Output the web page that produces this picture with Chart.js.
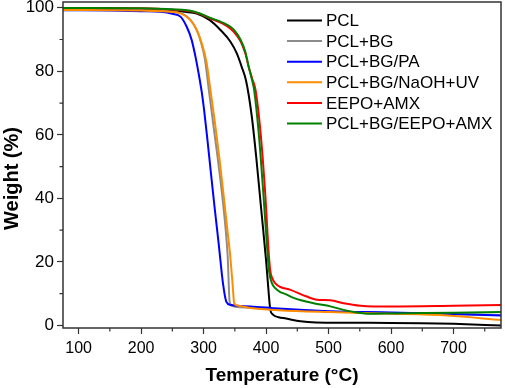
<!DOCTYPE html>
<html>
<head>
<meta charset="utf-8">
<script src="https://cdn.jsdelivr.net/npm/chart.js@4.4.1/dist/chart.umd.min.js"></script>
<style>
  html, body { margin: 0; padding: 0; background: #fff; }
  #wrap { width: 505px; height: 388px; }
</style>
</head>
<body>
<div id="wrap"><canvas id="tgaChart"></canvas></div>
<script>
const seriesLabels = ['PCL', 'PCL+BG', 'PCL+BG/PA', 'PCL+BG/NaOH+UV', 'EEPO+AMX', 'PCL+BG/EEPO+AMX'];
const seriesColors = ['#000000', '#8c8c8c', '#0000ff', '#ff8c00', '#ff0000', '#008000'];

const xTicks = [100, 200, 300, 400, 500, 600, 700];
const yTicks = [0, 20, 40, 60, 80, 100];

// temperature (°C) / weight (%)
const pclT = [75, 150, 200, 250, 270, 289, 310, 327, 343, 353, 361, 368, 377, 384.5, 392, 400, 404.5, 406.7, 411, 420, 432, 455, 480, 600, 700, 776];
const pclW = [99.9, 99.8, 99.6, 99.1, 98.7, 98.2, 96.1, 93.0, 89.3, 85.7, 81.4, 77.0, 66.0, 52.5, 37.0, 20.5, 9.5, 5.0, 3.4, 2.6, 2.2, 1.3, 0.95, 0.8, 0.5, 0.0];

const bgT = [75, 200, 263, 279, 289, 296, 302, 308.5, 316, 323, 329.5, 334.5, 338.5, 341.8, 346, 351, 375, 420, 500, 600, 700, 776];
const bgW = [99.6, 99.4, 98.3, 96.2, 93.0, 89.0, 84.0, 74.0, 62.6, 52.1, 41.5, 32.0, 22.0, 7.2, 6.1, 5.9, 5.6, 5.0, 4.4, 3.9, 3.5, 3.3];

const paT = [75, 150, 200, 231, 250, 263, 273, 281, 287, 292, 297, 301, 305.4, 312, 318, 324, 331, 336.3, 342.7, 375, 420, 500, 600, 700, 776];
const paW = [99.2, 99.1, 98.9, 98.7, 98.1, 97.2, 94.0, 89.8, 84.6, 79.4, 73.5, 67.5, 59.8, 47.5, 36.5, 26.0, 13.3, 7.5, 6.5, 6.0, 5.3, 4.5, 4.1, 3.6, 3.1];

const naT = [75, 200, 240, 263, 279, 289, 297, 305, 311, 318.7, 325.6, 332, 337, 342.7, 346.5, 349, 353.4, 375, 420, 500, 600, 690, 776];
const naW = [99.3, 99.1, 98.8, 98.2, 96.1, 93.0, 88.8, 82.5, 74.0, 63.0, 52.1, 41.0, 32.0, 21.7, 12.8, 7.0, 6.3, 5.5, 4.8, 4.2, 3.7, 3.1, 1.7];

const eeT = [75, 200, 250, 284, 311, 337, 348, 359, 367, 372, 378, 383, 391.5, 399, 403.5, 406.5, 410, 414, 423, 439, 465, 481, 503, 524, 551, 572, 600, 700, 776];
const eeW = [99.9, 99.8, 99.4, 98.7, 96.6, 94.3, 92.5, 89.5, 85.5, 81.5, 77.5, 74.3, 60.0, 40.5, 25.0, 17.5, 14.8, 13.4, 12.1, 11.2, 9.1, 8.1, 7.9, 7.0, 6.2, 6.0, 6.0, 6.2, 6.4];

const gT = [75, 200, 250, 284, 311, 337, 348, 359, 367, 372, 377.5, 381, 388.5, 396, 401.5, 404.5, 409, 416, 422, 432, 444, 476, 503, 524, 545, 567, 600, 700, 776];
const gW = [99.9, 99.8, 99.5, 98.8, 96.8, 94.7, 93.2, 90.0, 86.0, 81.6, 77.3, 74.0, 60.0, 40.5, 25.0, 17.5, 13.5, 11.5, 10.6, 9.8, 8.7, 7.0, 6.0, 4.9, 4.1, 3.7, 3.8, 4.0, 4.2];

const seriesT = [pclT, bgT, paT, naT, eeT, gT];
const seriesW = [pclW, bgW, paW, naW, eeW, gW];

const FONT = '"Liberation Sans", Arial, sans-serif';
const AXIS = '#333333';

Chart.defaults.font.family = FONT;
Chart.defaults.color = '#000';

const datasets = seriesLabels.map((label, i) => ({
    label: label,
    data: seriesT[i].map((t, k) => ({ x: t, y: seriesW[i][k] })),
    borderColor: seriesColors[i],
    backgroundColor: seriesColors[i],
    borderWidth: 2,
    pointRadius: 0,
    cubicInterpolationMode: 'monotone',
    fill: false,
    order: seriesLabels.length - i
}));

// box, minor ticks, legend, y title
const extras = {
    id: 'extras',
    afterDatasetsDraw(chart) {
        const { ctx, chartArea: a, scales } = chart;
        ctx.save();
        ctx.strokeStyle = AXIS;
        ctx.lineWidth = 1.5;
        ctx.strokeRect(a.left, a.top, a.right - a.left, a.bottom - a.top);

        ctx.lineWidth = 1.2;
        ctx.beginPath();
        for (let i = 0; i < xTicks.length; i++) {
            const px = scales.x.getPixelForValue(xTicks[i] + 50);
            if (px < a.right) { ctx.moveTo(px, a.bottom); ctx.lineTo(px, a.bottom + 3.5); }
        }
        for (let i = 0; i < yTicks.length - 1; i++) {
            const py = scales.y.getPixelForValue(yTicks[i] + 10);
            ctx.moveTo(a.left, py); ctx.lineTo(a.left - 3.5, py);
        }
        ctx.stroke();

        ctx.font = '17px ' + FONT;
        ctx.textBaseline = 'middle';
        ctx.textAlign = 'left';
        chart.data.datasets.forEach((ds, i) => {
            const y = 20.5 + i * 20.6;
            ctx.strokeStyle = ds.borderColor;
            ctx.lineWidth = 2;
            ctx.beginPath();
            ctx.moveTo(287, y); ctx.lineTo(322, y);
            ctx.stroke();
            ctx.fillStyle = '#000';
            ctx.fillText(ds.label, 326, y + 1);
        });

        ctx.translate(12, 178.5);
        ctx.rotate(-Math.PI / 2);
        ctx.font = 'bold 20px ' + FONT;
        ctx.textAlign = 'center';
        ctx.fillText('Weight (%)', 0, 0);
        ctx.restore();
    }
};

const ctx = document.getElementById('tgaChart').getContext('2d');
new Chart(ctx, {
    type: 'line',
    data: { datasets: datasets },
    plugins: [extras],
    options: {
        responsive: true,
        maintainAspectRatio: false,
        animation: false,
        layout: { padding: { top: 2, right: 4, left: 0, bottom: 0 } },
        plugins: { legend: { display: false }, tooltip: { enabled: false } },
        scales: {
            x: {
                type: 'linear',
                min: 75,
                max: 776,
                afterFit: (s) => { s.height = 60; s.paddingLeft = 0; s.paddingRight = 0; },
                afterBuildTicks: (s) => { s.ticks = xTicks.map(v => ({ value: v })); },
                ticks: { font: { size: 16 }, color: '#000', padding: 5, maxRotation: 0 },
                grid: { drawOnChartArea: false, tickLength: 6, tickColor: AXIS, tickWidth: 1.2 },
                border: { display: false },
                title: { display: true, text: 'Temperature (°C)', font: { size: 19, weight: 'bold' }, color: '#000', padding: { top: 0, bottom: 1 } }
            },
            y: {
                min: -0.8,
                max: 101.8,
                afterFit: (s) => { s.width = 63; s.paddingTop = 0; s.paddingBottom = 0; },
                afterBuildTicks: (s) => { s.ticks = yTicks.map(v => ({ value: v })); },
                ticks: { font: { size: 17 }, color: '#000', padding: 3 },
                grid: { drawOnChartArea: false, tickLength: 6, tickColor: AXIS, tickWidth: 1.2 },
                border: { display: false }
            }
        }
    }
});
</script>
</body>
</html>
